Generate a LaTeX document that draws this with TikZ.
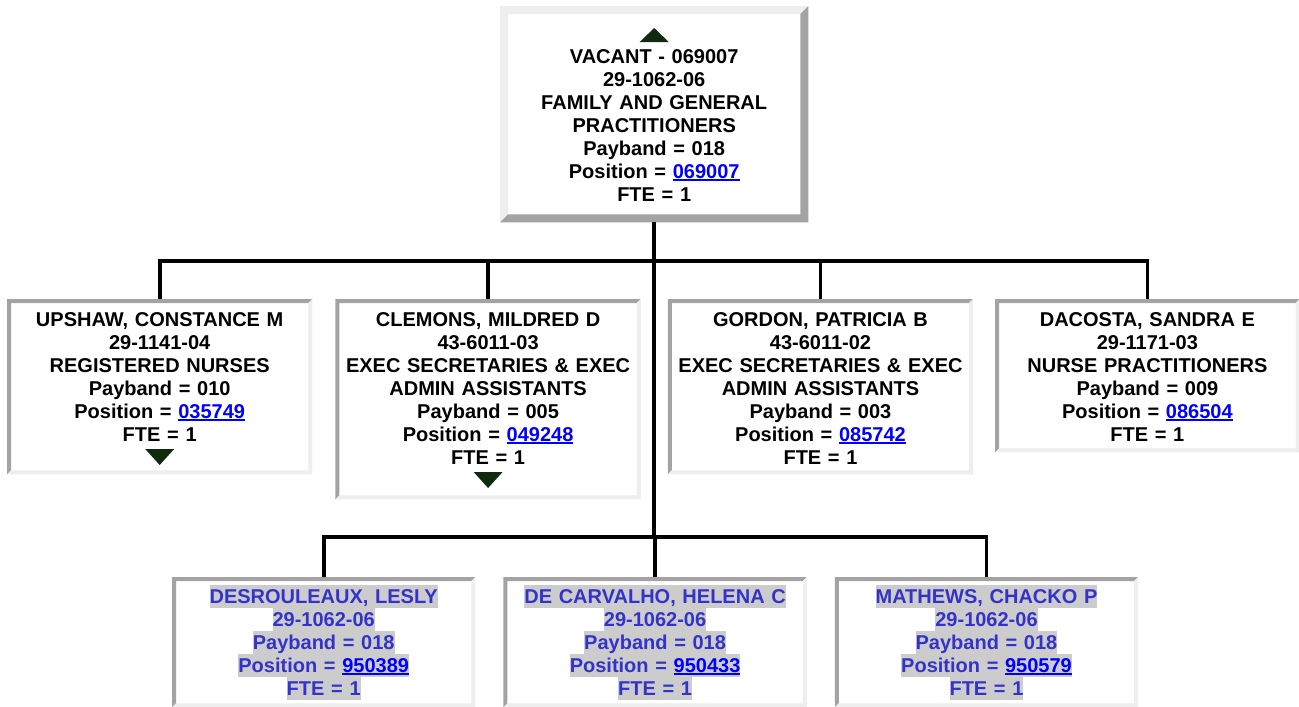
\documentclass[tikz,border=0pt]{standalone}
\usepackage{fontspec}
\setmainfont{Liberation Sans}
\usepackage{xcolor}
\usetikzlibrary{positioning}
\definecolor{bevellight}{HTML}{EEEEEE}
\definecolor{beveldark}{HTML}{A3A3A3}
\definecolor{linkblue}{HTML}{0000FF}
\definecolor{vacblue}{HTML}{3333CC}
\definecolor{hlgray}{HTML}{CCCCCC}
\definecolor{markgreen}{HTML}{0F2A0F}

\newcommand\cardfont{\fontsize{20pt}{23pt}\selectfont\bfseries}
\newcommand\poslink[1]{{\color{linkblue}\setbox0\hbox{#1}\rlap{\rule[-3.2pt]{\wd0}{1.8pt}}\box0}}
\newcommand\hlline[1]{{\fboxsep=0pt\colorbox{hlgray}{\rule[-4.5pt]{0pt}{23pt}#1}}}
% node, border width, top/left colour, bottom/right colour
\newcommand\bevel[4]{%
  \fill[#3] (#1.south west) -- (#1.north west) -- (#1.north east)
    -- ([xshift=-#2,yshift=-#2]#1.north east) -- ([xshift=#2,yshift=-#2]#1.north west)
    -- ([xshift=#2,yshift=#2]#1.south west) -- cycle;
  \fill[#4] (#1.south west) -- (#1.south east) -- (#1.north east)
    -- ([xshift=-#2,yshift=-#2]#1.north east) -- ([xshift=-#2,yshift=#2]#1.south east)
    -- ([xshift=#2,yshift=#2]#1.south west) -- cycle;
}

\begin{document}
\begin{tikzpicture}[x=1pt, y=-1pt,
    card/.style={
      rectangle,
      fill=white,
      inner sep=0pt,
      anchor=north west
    },
    cardtext/.style={
      text width=#1,
      align=center,
      inner sep=0pt,
      anchor=base,
      font=\cardfont
    },
    cardtext/.default=296pt,
    link/.style={line width=3.6pt, draw=black},
    mark/.style={fill=markgreen}
  ]
    \useasboundingbox[fill=white] (0,0) rectangle (1299,707);
    \coordinate (upbus) at (654,261);
    \coordinate (lowbus) at (654,537);

    % top
    \node[card, minimum width=308pt, minimum height=216pt] (vacant) at (500,6) {};
    \bevel{vacant}{8pt}{bevellight}{beveldark}
    \fill[markgreen] ([yshift=-36pt]vacant.north) ++(-14.5,0) -- ++(29,0) -- ++(-14.5,-14) -- cycle;
    \node[cardtext=290pt] (vacant-txt) at ([yshift=-57pt]vacant.north)
      {VACANT - 069007\\29-1062-06\\FAMILY AND GENERAL\\PRACTITIONERS\\Payband = 018\\Position = \poslink{069007}\\FTE = 1};

    % direct reports
    \node[card, minimum width=305pt, minimum height=175pt] (upshaw) at (7,299) {};
    \node[card, minimum width=305pt, minimum height=200pt, right=23pt of upshaw.north east, anchor=north west] (clemons) {};
    \node[card, minimum width=305pt, minimum height=175pt, right=27pt of clemons.north east, anchor=north west] (gordon) {};
    \node[card, minimum width=304pt, minimum height=153pt, right=22pt of gordon.north east, anchor=north west] (dacosta) {};

    % vacancy holders
    \node[card, minimum width=303pt, minimum height=130pt] (desrouleaux) at (172,577) {};
    \node[card, minimum width=303pt, minimum height=130pt, right=28pt of desrouleaux.north east, anchor=north west] (carvalho) {};
    \node[card, minimum width=303pt, minimum height=130pt, right=28pt of carvalho.north east, anchor=north west] (mathews) {};

    \foreach \b in {upshaw, clemons, gordon, dacosta, desrouleaux, carvalho, mathews}
      {\bevel{\b}{4pt}{beveldark}{bevellight}}

    \node[cardtext] (upshaw-txt) at ([yshift=-27pt]upshaw.north)
      {UPSHAW, CONSTANCE M\\29-1141-04\\REGISTERED NURSES\\Payband = 010\\Position = \poslink{035749}\\FTE = 1};
    \node[cardtext] (clemons-txt) at ([yshift=-27pt]clemons.north)
      {CLEMONS, MILDRED D\\43-6011-03\\EXEC SECRETARIES \& EXEC\\ADMIN ASSISTANTS\\Payband = 005\\Position = \poslink{049248}\\FTE = 1};
    \node[cardtext] (gordon-txt) at ([yshift=-27pt]gordon.north)
      {GORDON, PATRICIA B\\43-6011-02\\EXEC SECRETARIES \& EXEC\\ADMIN ASSISTANTS\\Payband = 003\\Position = \poslink{085742}\\FTE = 1};
    \node[cardtext] (dacosta-txt) at ([yshift=-27pt]dacosta.north)
      {DACOSTA, SANDRA E\\29-1171-03\\NURSE PRACTITIONERS\\Payband = 009\\Position = \poslink{086504}\\FTE = 1};
    \fill[markgreen] ([yshift=-150pt]upshaw.north) ++(-14.5,0) -- ++(29,0) -- ++(-14.5,16) -- cycle;
    \fill[markgreen] ([yshift=-173pt]clemons.north) ++(-14.5,0) -- ++(29,0) -- ++(-14.5,16) -- cycle;

    \node[cardtext, text=vacblue] (desrouleaux-txt) at ([yshift=-26pt]desrouleaux.north)
      {\hlline{DESROULEAUX, LESLY}\\\hlline{29-1062-06}\\\hlline{Payband = 018}\\\hlline{Position = \poslink{950389}}\\\hlline{FTE = 1}};
    \node[cardtext, text=vacblue] (carvalho-txt) at ([yshift=-26pt]carvalho.north)
      {\hlline{DE CARVALHO, HELENA C}\\\hlline{29-1062-06}\\\hlline{Payband = 018}\\\hlline{Position = \poslink{950433}}\\\hlline{FTE = 1}};
    \node[cardtext, text=vacblue] (mathews-txt) at ([yshift=-26pt]mathews.north)
      {\hlline{MATHEWS, CHACKO P}\\\hlline{29-1062-06}\\\hlline{Payband = 018}\\\hlline{Position = \poslink{950579}}\\\hlline{FTE = 1}};

    % connectors
    \draw[link] (vacant.south) -- (vacant.south |- lowbus);
    \draw[link] (upshaw.north) -- (upshaw.north |- upbus) -- (dacosta.north |- upbus) -- (dacosta.north);
    \draw[link] (clemons.north) -- (clemons.north |- upbus);
    \draw[link] (gordon.north) -- (gordon.north |- upbus);
    \draw[link] (desrouleaux.north) -- (desrouleaux.north |- lowbus) -- (mathews.north |- lowbus) -- (mathews.north);
    \draw[link] (carvalho.north) -- (carvalho.north |- lowbus);
  \end{tikzpicture}
\end{document}
